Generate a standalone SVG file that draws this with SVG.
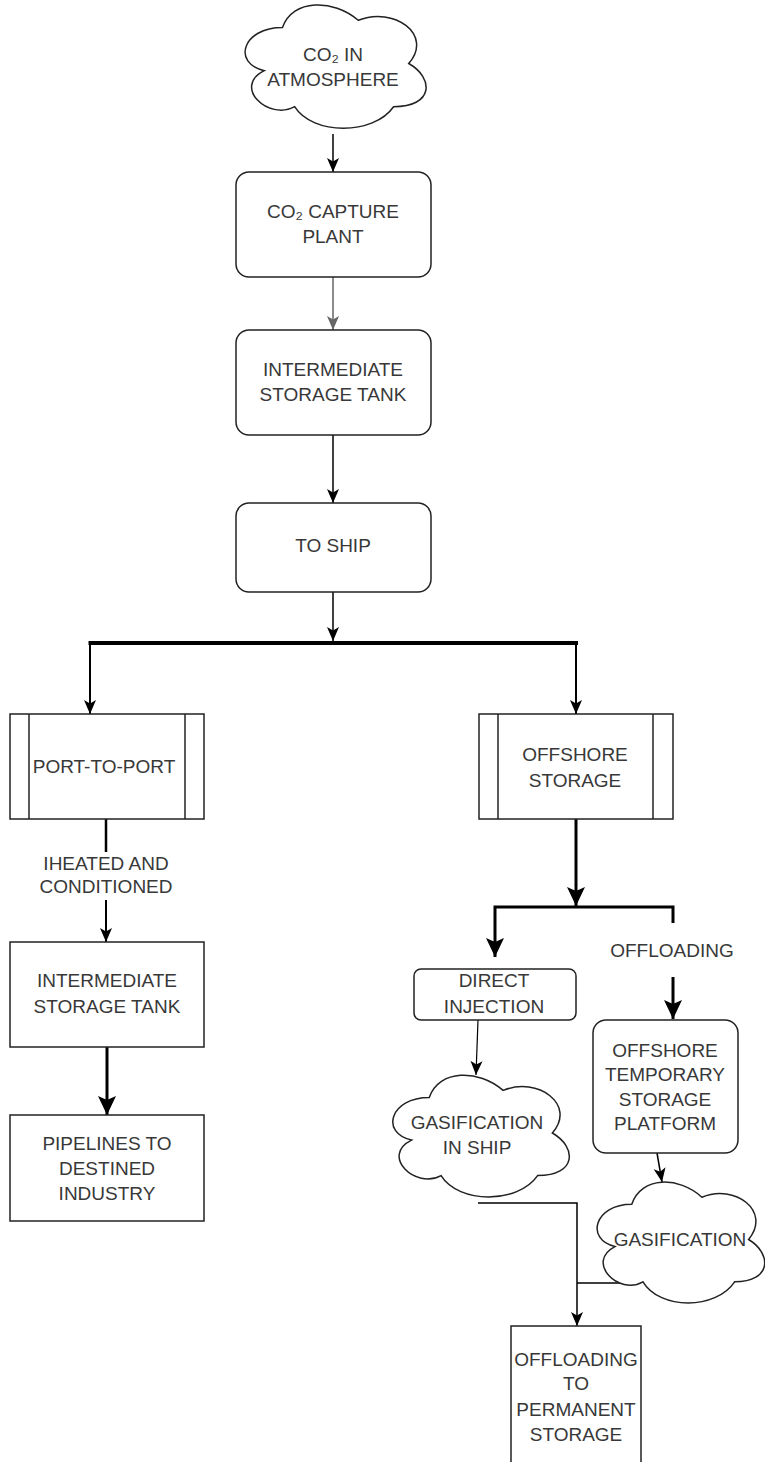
<svg xmlns="http://www.w3.org/2000/svg" width="765" height="1462" viewBox="0 0 765 1462">
<style>
.box{fill:#fff;stroke:#222;stroke-width:1.5}
.t{font-family:"Liberation Sans",Arial,Helvetica,sans-serif;font-size:19px;fill:#383838;text-anchor:middle}
.c{fill:none;stroke:#000;stroke-width:1.5}
</style>
<defs>
<marker id="ah" markerUnits="userSpaceOnUse" markerWidth="14" markerHeight="13" viewBox="0 0 14 13" refX="14" refY="6.5" orient="auto"><path d="M0,0.5 L14,6.5 L0,12.5 L3.5,6.5 Z" fill="#000"/></marker>
<marker id="ahg" markerUnits="userSpaceOnUse" markerWidth="14" markerHeight="13" viewBox="0 0 14 13" refX="14" refY="6.5" orient="auto"><path d="M0,0.5 L14,6.5 L0,12.5 L3.5,6.5 Z" fill="#666"/></marker>
<marker id="ab" markerUnits="userSpaceOnUse" markerWidth="19" markerHeight="19" viewBox="0 0 19 19" refX="19" refY="9.5" orient="auto"><path d="M0,0.5 L19,9.5 L0,18.5 L4,9.5 Z" fill="#000"/></marker>
</defs>

<g id="connectors">
<path class="c" d="M333,134 V172" marker-end="url(#ah)"/>
<path class="c" d="M333,277 V330" style="stroke:#666" marker-end="url(#ahg)"/>
<path class="c" d="M333,435 V503" marker-end="url(#ah)"/>
<path class="c" d="M333,592 V641" marker-end="url(#ah)"/>
<path d="M88.5,643 H578" fill="none" stroke="#000" stroke-width="4"/>
<path class="c" d="M90,645 V714" style="stroke-width:2" marker-end="url(#ah)"/>
<path class="c" d="M576,645 V714" style="stroke-width:2" marker-end="url(#ah)"/>
<path class="c" d="M106,819 V852" style="stroke-width:2.5"/>
<path class="c" d="M106,900 V942" style="stroke-width:2" marker-end="url(#ah)"/>
<path class="c" d="M107,1047 V1115" style="stroke-width:3" marker-end="url(#ab)"/>
<path class="c" d="M576,819 V906" style="stroke-width:3" marker-end="url(#ab)"/>
<path class="c" d="M673,923 V907 H495 V957" style="stroke-width:3" marker-end="url(#ab)"/>
<path class="c" d="M673,977 V1019" style="stroke-width:3" marker-end="url(#ab)"/>
<path class="c" d="M478,1020 L476,1075" style="stroke-width:1.2" marker-end="url(#ah)"/>
<path class="c" d="M657,1153 L662,1182" marker-end="url(#ah)"/>
<path class="c" d="M478,1203 H577 V1326" marker-end="url(#ah)"/>
<path class="c" d="M577,1283 H622"/>
</g>

<g id="co2-atmosphere">
<path class="box" d="M282.5,27.5 C242.1,27.5 232,63.5 264.32,70.7 C232,86.54 268.36,121.1 294.62,106.7 C312.8,135.5 373.4,135.5 393.6,106.7 C434,106.7 434,77.9 408.75,63.5 C434,34.7 393.6,5.9 358.25,20.3 C333,-1.3 292.6,-1.3 282.5,27.5 Z"/>
<text class="t" x="333" y="61">CO₂ IN</text>
<text class="t" x="333" y="86">ATMOSPHERE</text>
</g>

<g id="capture-plant">
<rect class="box" x="236" y="172" width="195" height="105" rx="13"/>
<text class="t" x="333" y="218">CO₂ CAPTURE</text>
<text class="t" x="333" y="243">PLANT</text>
</g>

<g id="intermediate-tank-1">
<rect class="box" x="236" y="330" width="195" height="105" rx="13"/>
<text class="t" x="333" y="376">INTERMEDIATE</text>
<text class="t" x="333" y="401">STORAGE TANK</text>
</g>

<g id="to-ship">
<rect class="box" x="236" y="503" width="195" height="89" rx="13"/>
<text class="t" x="333" y="552">TO SHIP</text>
</g>

<g id="port-to-port">
<rect class="box" x="10" y="714" width="194" height="105"/>
<line class="box" x1="29" y1="714" x2="29" y2="819"/>
<line class="box" x1="185" y1="714" x2="185" y2="819"/>
<text class="t" x="104" y="773">PORT-TO-PORT</text>
</g>

<g id="heated-label">
<text class="t" x="106" y="870">IHEATED AND</text>
<text class="t" x="106" y="893">CONDITIONED</text>
</g>

<g id="intermediate-tank-2">
<rect class="box" x="10" y="942" width="194" height="105"/>
<text class="t" x="107" y="987">INTERMEDIATE</text>
<text class="t" x="107" y="1013">STORAGE TANK</text>
</g>

<g id="pipelines">
<rect class="box" x="10" y="1115" width="194" height="106"/>
<text class="t" x="107" y="1150">PIPELINES TO</text>
<text class="t" x="107" y="1175">DESTINED</text>
<text class="t" x="107" y="1200">INDUSTRY</text>
</g>

<g id="offshore-storage">
<rect class="box" x="479" y="714" width="194" height="105"/>
<line class="box" x1="498" y1="714" x2="498" y2="819"/>
<line class="box" x1="653" y1="714" x2="653" y2="819"/>
<text class="t" x="575" y="761">OFFSHORE</text>
<text class="t" x="575" y="787">STORAGE</text>
</g>

<g id="offloading-label">
<text class="t" x="672" y="957">OFFLOADING</text>
</g>

<g id="direct-injection">
<rect class="box" x="414" y="969" width="162" height="51" rx="7"/>
<text class="t" x="494" y="987">DIRECT</text>
<text class="t" x="494" y="1013">INJECTION</text>
</g>

<g id="temporary-platform">
<rect class="box" x="593" y="1020" width="145" height="133" rx="13"/>
<text class="t" x="665" y="1057">OFFSHORE</text>
<text class="t" x="665" y="1081">TEMPORARY</text>
<text class="t" x="665" y="1106">STORAGE</text>
<text class="t" x="665" y="1130">PLATFORM</text>
</g>

<g id="gasification-ship">
<path class="box" d="M429.25,1097.5 C389.85,1097.5 380,1133 411.52,1140.1 C380,1155.72 415.46,1189.8 441.07,1175.6 C458.8,1204 517.9,1204 537.6,1175.6 C577,1175.6 577,1147.2 552.38,1133 C577,1104.6 537.6,1076.2 503.13,1090.4 C478.5,1069.1 439.1,1069.1 429.25,1097.5 Z"/>
<text class="t" x="477" y="1129">GASIFICATION</text>
<text class="t" x="477" y="1154">IN SHIP</text>
</g>

<g id="gasification">
<path class="box" d="M631.75,1204.25 C594.35,1204.25 585,1239.5 614.92,1246.55 C585,1262.06 618.66,1295.9 642.97,1281.8 C659.8,1310 715.9,1310 734.6,1281.8 C772,1281.8 772,1253.6 748.6,1239.5 C772,1211.3 734.6,1183.1 701.9,1197.2 C678.5,1176.05 641.1,1176.05 631.75,1204.25 Z"/>
<text class="t" x="680" y="1246">GASIFICATION</text>
</g>

<g id="permanent-storage">
<rect class="box" x="511" y="1326" width="130" height="150"/>
<text class="t" x="576" y="1366">OFFLOADING</text>
<text class="t" x="576" y="1390">TO</text>
<text class="t" x="576" y="1416">PERMANENT</text>
<text class="t" x="576" y="1441">STORAGE</text>
</g>
</svg>
